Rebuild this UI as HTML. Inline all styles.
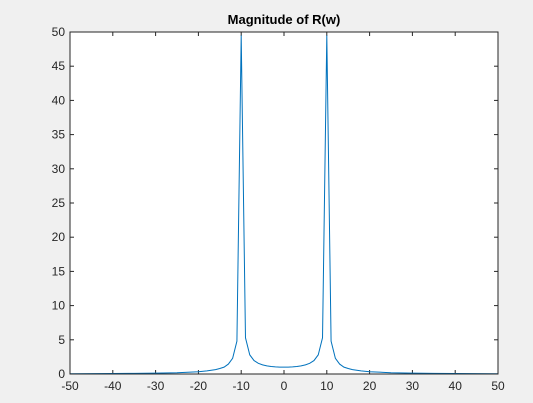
<!DOCTYPE html>
<html><head><meta charset="utf-8"><style>
body{margin:0;background:#f0f0f0;}
svg{display:block;font-family:"Liberation Sans",sans-serif;}
</style></head><body>
<svg id="chart" width="533" height="403">
<rect x="0" y="0" width="533" height="403" fill="#f0f0f0"/>
<rect x="70" y="32" width="428" height="342" fill="#fff"/>
<text x="284" y="24" text-anchor="middle" font-size="13" font-weight="bold" fill="#000">Magnitude of R(w)</text>
<g id="axes"></g>
<path id="line" fill="none" stroke="#0072bd" stroke-width="1"/>
<rect x="70" y="32" width="428" height="342" fill="none" stroke="#262626" stroke-width="1"/>
</svg>
<script>
const wValues = [-50,-45,-40,-35,-30,-25,-20,-18,-16,-15,-14,-13,-12,-11,-10,-9,-8,-7,-6,-5,-4,-3,-2,-1,0,1,2,3,4,5,6,7,8,9,10,11,12,13,14,15,16,18,20,25,30,35,40,45,50];
const magValues = [0.04,0.05,0.07,0.09,0.13,0.19,0.33,0.45,0.64,0.8,1.0,1.45,2.3,4.8,49.5,5.3,2.8,1.96,1.56,1.33,1.19,1.1,1.04,1.01,1.0,1.01,1.04,1.1,1.19,1.33,1.56,1.96,2.8,5.3,49.5,4.8,2.3,1.45,1.0,0.8,0.64,0.45,0.33,0.19,0.13,0.09,0.07,0.05,0.04];
const xTicks = [-50,-40,-30,-20,-10,0,10,20,30,40,50];
const yTicks = [0,5,10,15,20,25,30,35,40,45,50];
const L=70,R=498,T=32,B=374;
const xs=v=>L+(v+50)/100*(R-L);
const ys=v=>B-v/50*(B-T);
const ns="http://www.w3.org/2000/svg";
const g=document.getElementById('axes');
function mk(tag,attrs){const e=document.createElementNS(ns,tag);for(const k in attrs)e.setAttribute(k,attrs[k]);return e;}
xTicks.forEach(t=>{
  const x=xs(t);
  const l1=mk('line',{x1:x,x2:x,y1:B,y2:B-4,stroke:'#262626'});
  
  
  g.appendChild(l1);
  const l2=mk('line',{x1:x,x2:x,y1:T,y2:T+4,stroke:'#262626'});
  
  
  g.appendChild(l2);
  const tx=mk('text',{x:x,y:B+16,'text-anchor':'middle','font-size':'12',fill:'#262626'});
  tx.textContent=t;
  
  
  g.appendChild(tx);
});
yTicks.forEach(t=>{
  const y=ys(t);
  const l1=mk('line',{x1:L,x2:L+4,y1:y,y2:y,stroke:'#262626'});
  
  
  g.appendChild(l1);
  const l2=mk('line',{x1:R,x2:R-4,y1:y,y2:y,stroke:'#262626'});
  
  
  g.appendChild(l2);
  const tx=mk('text',{x:L-5,y:y+4,'text-anchor':'end','font-size':'12',fill:'#262626'});
  tx.textContent=t;
  
  
  g.appendChild(tx);
});
document.getElementById('line').setAttribute('d',wValues.map((w,i)=>(i?'L':'M')+xs(w).toFixed(2)+','+ys(magValues[i]).toFixed(2)).join(''));
</script>
</body></html>
